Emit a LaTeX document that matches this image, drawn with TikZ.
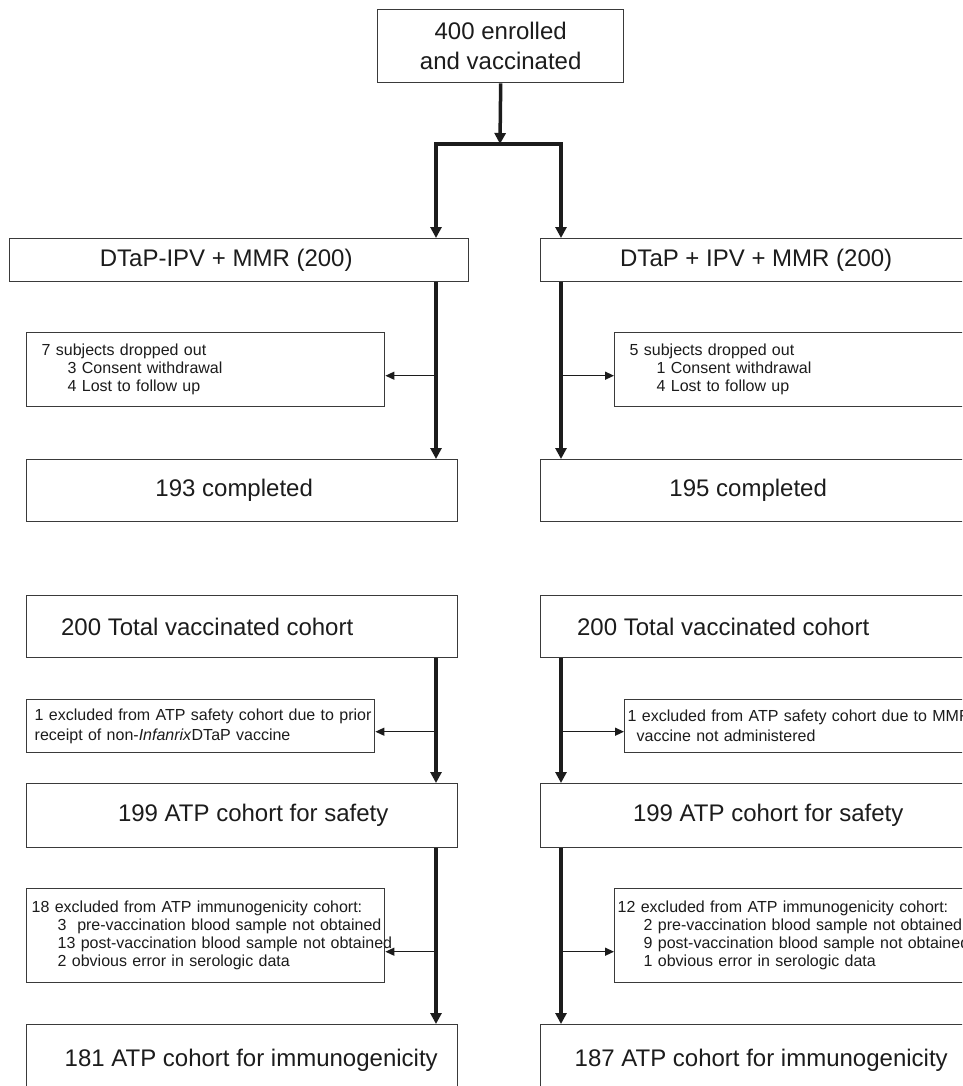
\documentclass[tikz,border=0pt]{standalone}
\usepackage{fontspec}
\setmainfont{Liberation Sans}
\usetikzlibrary{arrows.meta}
\definecolor{ink}{HTML}{1C1C1C}
\definecolor{boxc}{HTML}{3A3A3A}
\newcommand{\bigfont}{\fontsize{24}{30}\selectfont}
\newcommand{\smallfont}{\fontsize{16}{18}\selectfont}
\newcommand{\smallfontb}{\fontsize{16}{20}\selectfont}
\newcommand{\rowtxt}[2][0pt]{\mbox{\hspace*{#1}#2}}
\newcommand{\padR}[1]{\hspace*{#1}\null}
\begin{document}
\begin{tikzpicture}[x=1pt,y=-1pt,
  bigbox/.style={draw=boxc, line width=1.4pt, anchor=north west, inner sep=0pt,
    font=\bigfont, text=ink, minimum width=431pt},
  smallbox/.style={draw=boxc, line width=1.4pt, anchor=north west, align=left,
    font=\smallfont, text=ink, inner ysep=0pt},
  main/.style={draw=ink, line width=3.5pt, -{Triangle[length=11pt,width=11pt]}},
  mainline/.style={draw=ink, line width=3.5pt},
  branch/.style={draw=ink, line width=1.4pt, -{Triangle[length=9pt,width=8pt]}}]
\clip (0,0) rectangle (962,1086);
\fill[white] (0,0) rectangle (962,1086);

\coordinate (xL) at (436,0);
\coordinate (xR) at (561,0);
\coordinate (jn) at (500,144);

% main boxes
\node[bigbox, minimum width=246pt, minimum height=73pt, align=center] (top) at (377,9) {400 enrolled\\and vaccinated};
\node[bigbox, minimum width=459pt, minimum height=43pt] (dtapL) at (9,238) {\raisebox{3pt}{DTaP-IPV + MMR (200)}\padR{26pt}};
\node[bigbox, minimum height=43pt] (dtapR) at (540,238) {\raisebox{3pt}{DTaP + IPV + MMR (200)}};
\node[bigbox, minimum height=62pt] (compL) at (26,459) {193 completed\padR{16pt}};
\node[bigbox, minimum height=62pt] (compR) at (540,459) {195 completed\padR{16pt}};
\node[bigbox, minimum height=62pt] (totL) at (26,595) {\raisebox{-3pt}{200 Total vaccinated cohort}\padR{70pt}};
\node[bigbox, minimum height=62pt] (totR) at (540,595) {\raisebox{-3pt}{200 Total vaccinated cohort}\padR{66pt}};
\node[bigbox, minimum height=64pt] (safL) at (26,783) {\hspace*{22pt}199 ATP cohort for safety};
\node[bigbox, minimum height=64pt] (safR) at (540,783) {\hspace*{24pt}199 ATP cohort for safety};
\node[bigbox, minimum height=72pt] (immL) at (26,1024) {\hspace*{18pt}181 ATP cohort for immunogenicity};
\node[bigbox, minimum height=72pt] (immR) at (540,1024) {\hspace*{10pt}187 ATP cohort for immunogenicity};

% side boxes
\node[smallbox, inner xsep=15pt, text width=328pt, minimum height=74pt] (dropL) at (26,332)
  {\rowtxt{7 subjects dropped out}\\\rowtxt[26pt]{3 Consent withdrawal}\\\rowtxt[26pt]{4 Lost to follow up}};
\node[smallbox, inner xsep=15pt, text width=340pt, minimum height=74pt] (dropR) at (614,332)
  {\rowtxt{5 subjects dropped out}\\\rowtxt[27pt]{1 Consent withdrawal}\\\rowtxt[27pt]{4 Lost to follow up}};
\node[smallbox, font=\smallfontb, inner xsep=8pt, text width=332pt, minimum height=53pt] (exL) at (26,699)
  {\rowtxt{1 excluded from ATP safety cohort due to prior}\\\rowtxt{receipt of non-\textit{Infanrix}DTaP vaccine}};
\node[smallbox, font=\smallfontb, inner xsep=3pt, text width=360pt, minimum height=53pt] (exR) at (624,699)
  {\rowtxt{1 excluded from ATP safety cohort due to MMR}\\\rowtxt[9pt]{vaccine not administered}};
\node[smallbox, inner xsep=5pt, text width=348pt, minimum height=94pt] (ixL) at (26,888)
  {\rowtxt{18 excluded from ATP immunogenicity cohort:}\\\rowtxt[26pt]{3\ \ pre-vaccination blood sample not obtained}\\\rowtxt[26pt]{13 post-vaccination blood sample not obtained}\\\rowtxt[26pt]{2 obvious error in serologic data}};
\node[smallbox, inner xsep=3pt, text width=360pt, minimum height=94pt] (ixR) at (614,888)
  {\rowtxt{12 excluded from ATP immunogenicity cohort:}\\\rowtxt[26pt]{2 pre-vaccination blood sample not obtained}\\\rowtxt[26pt]{9 post-vaccination blood sample not obtained}\\\rowtxt[26pt]{1 obvious error in serologic data}};

% connectors
\draw[main] (top.south) -- (jn);
\draw[mainline, {Triangle[length=11pt,width=11pt]}-{Triangle[length=11pt,width=11pt]}]
  (dtapL.north -| xL) |- (jn) -| (dtapR.north -| xR);
\draw[main] (dtapL.south -| xL) -- (compL.north -| xL);
\draw[main] (dtapR.south -| xR) -- (compR.north -| xR);
\draw[main] (totL.south -| xL) -- (safL.north -| xL);
\draw[main] (totR.south -| xR) -- (safR.north -| xR);
\draw[main] (safL.south -| xL) -- (immL.north -| xL);
\draw[main] (safR.south -| xR) -- (immR.north -| xR);

\draw[branch] ([yshift=-6pt]dropL.east -| xL) -- ([yshift=-6pt]dropL.east);
\draw[branch] ([yshift=-6pt]dropR.west -| xR) -- ([yshift=-6pt]dropR.west);
\draw[branch] ([yshift=-5.5pt]exL.east -| xL) -- ([yshift=-5.5pt]exL.east);
\draw[branch] ([yshift=-5.5pt]exR.west -| xR) -- ([yshift=-5.5pt]exR.west);
\draw[branch] ([yshift=-16pt]ixL.east -| xL) -- ([yshift=-16pt]ixL.east);
\draw[branch] ([yshift=-16pt]ixR.west -| xR) -- ([yshift=-16pt]ixR.west);
\end{tikzpicture}
\end{document}
